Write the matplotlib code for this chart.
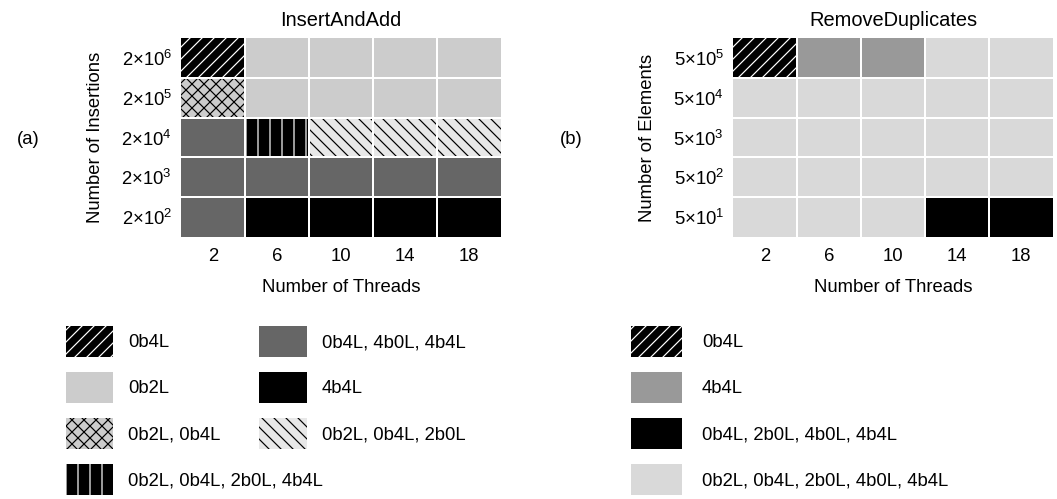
import matplotlib.pyplot as plt
import matplotlib.patches as mpatches

plt.rcParams['font.family'] = ['Liberation Sans', 'DejaVu Sans']
plt.rcParams['mathtext.fontset'] = 'custom'
plt.rcParams['mathtext.rm'] = 'Liberation Sans'
plt.rcParams['mathtext.it'] = 'Liberation Sans:italic'
plt.rcParams['hatch.linewidth'] = 1.2

fs = 18.5
W, H = 1057, 499

threads = [2, 6, 10, 14, 18]
insert_exp = [6, 5, 4, 3, 2]   # 2x10^e, top to bottom
remove_exp = [5, 4, 3, 2, 1]   # 5x10^e, top to bottom

# best variant(s) per cell, rows top to bottom, columns = threads
insert_best = [
    ['0b4L', '0b2L', '0b2L', '0b2L', '0b2L'],
    ['0b2L, 0b4L', '0b2L', '0b2L', '0b2L', '0b2L'],
    ['0b4L, 4b0L, 4b4L', '0b2L, 0b4L, 2b0L, 4b4L', '0b2L, 0b4L, 2b0L',
     '0b2L, 0b4L, 2b0L', '0b2L, 0b4L, 2b0L'],
    ['0b4L, 4b0L, 4b4L'] * 5,
    ['0b4L, 4b0L, 4b4L', '4b4L', '4b4L', '4b4L', '4b4L'],
]
ALL5 = '0b2L, 0b4L, 2b0L, 4b0L, 4b4L'
remove_best = [
    ['0b4L', '4b4L', '4b4L', ALL5, ALL5],
    [ALL5] * 5,
    [ALL5] * 5,
    [ALL5] * 5,
    [ALL5, ALL5, ALL5, '0b4L, 2b0L, 4b0L, 4b4L', '0b4L, 2b0L, 4b0L, 4b4L'],
]

# label -> (face, hatch, hatch colour)
insert_style = {
    '0b4L': ('black', '//', 'white'),
    '0b2L': ('#cccccc', None, 'none'),
    '0b2L, 0b4L': ('#cccccc', 'xx', 'black'),
    '0b2L, 0b4L, 2b0L, 4b4L': ('black', '|', 'white'),
    '0b4L, 4b0L, 4b4L': ('#666666', None, 'none'),
    '4b4L': ('black', None, 'none'),
    '0b2L, 0b4L, 2b0L': ('#e8e8e8', '\\\\', 'black'),
}
remove_style = {
    '0b4L': ('black', '//', 'white'),
    '4b4L': ('#999999', None, 'none'),
    '0b4L, 2b0L, 4b0L, 4b4L': ('black', None, 'none'),
    ALL5: ('#d9d9d9', None, 'none'),
}


def heatmap(ax, grid, style, ylabels, title, ylabel):
    n = len(grid)
    for i, row in enumerate(grid):
        y = n - 1 - i
        for j, key in enumerate(row):
            fc, h, hc = style[key]
            ax.bar(j, 1, bottom=y - 0.5, width=1, facecolor=fc,
                   edgecolor=hc, hatch=h, linewidth=0)
    ax.set_xlim(-0.5, len(threads) - 0.5)
    ax.set_ylim(-0.5, n - 0.5)
    ax.set_xticks(range(len(threads)))
    ax.set_xticklabels([str(t) for t in threads])
    ax.set_yticks(range(n))
    ax.set_yticklabels(ylabels[::-1])
    ax.set_xticks([k + 0.5 for k in range(len(threads) - 1)], minor=True)
    ax.set_yticks([k + 0.5 for k in range(n - 1)], minor=True)
    ax.grid(which='minor', color='white', linewidth=2)
    ax.set_axisbelow(False)
    ax.tick_params(which='both', length=0, labelsize=fs)
    ax.tick_params(axis='x', pad=11)
    ax.tick_params(axis='y', pad=9)
    for s in ax.spines.values():
        s.set_visible(False)
    ax.set_title(title, fontsize=20, pad=12)
    ax.set_xlabel('Number of Threads', fontsize=fs, labelpad=14)
    ax.set_ylabel(ylabel, fontsize=fs, labelpad=17)


def legend(fig, keys, style, x, y, plen, pad):
    handles = []
    for k in keys:
        fc, h, hc = style[k]
        handles.append(mpatches.Patch(facecolor=fc, edgecolor=hc, hatch=h, linewidth=0))
    # legend handle box height is fs*hh minus a descent term; solve for 31 px
    hh = (31 / fs - 0.245) / 0.65
    fig.legend(handles, keys, loc='upper left', bbox_to_anchor=(x / W, 1 - y / H),
               frameon=False, borderpad=0, borderaxespad=0, fontsize=fs,
               handlelength=plen / fs, handleheight=hh,
               handletextpad=pad / fs, labelspacing=15 / fs)


fig = plt.figure(figsize=(W / 72, H / 72))
ax1 = fig.add_axes([181 / W, 1 - 237 / H, 320 / W, 199 / H])
ax2 = fig.add_axes([733 / W, 1 - 237 / H, 320 / W, 199 / H])

heatmap(ax1, insert_best, insert_style, [f'2×10$^{{{e}}}$' for e in insert_exp],
        'InsertAndAdd', 'Number of Insertions')
heatmap(ax2, remove_best, remove_style, [f'5×10$^{{{e}}}$' for e in remove_exp],
        'RemoveDuplicates', 'Number of Elements')

fig.text(28 / W, 1 - 139 / H, '(a)', fontsize=fs, ha='center', va='center')
fig.text(571 / W, 1 - 139 / H, '(b)', fontsize=fs, ha='center', va='center')

legend(fig, ['0b4L', '0b2L', '0b2L, 0b4L', '0b2L, 0b4L, 2b0L, 4b4L'],
       insert_style, 66, 326, 47, 15)
legend(fig, ['0b4L, 4b0L, 4b4L', '4b4L', '0b2L, 0b4L, 2b0L'],
       insert_style, 259, 326, 48, 15)
legend(fig, ['0b4L', '4b4L', '0b4L, 2b0L, 4b0L, 4b4L', ALL5],
       remove_style, 631, 326, 51, 20)

fig.savefig('out.png', dpi=72)
